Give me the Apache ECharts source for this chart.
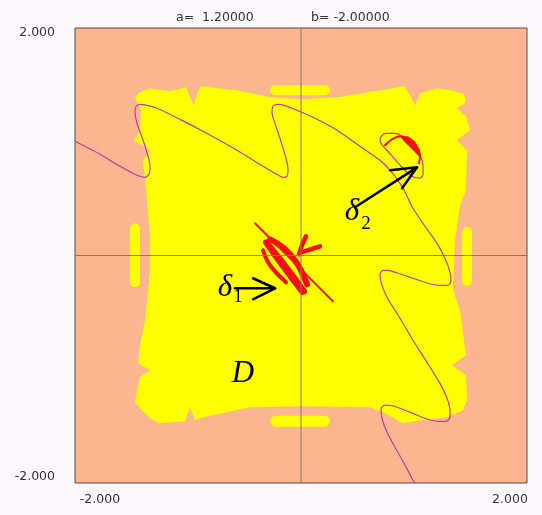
<!DOCTYPE html>
<html>
<head>
<meta charset="utf-8">
<script src="https://cdn.jsdelivr.net/npm/echarts@6/dist/echarts.min.js"></script>
<style>
  html, body { margin: 0; padding: 0; background: #fcf8fc; }
  #chart { width: 542px; height: 515px; }
</style>
</head>
<body>
<div id="chart"></div>
<script>
// Map parameters shown in the header
const paramLabels = ['a=  1.20000', 'b= -2.00000'];
// Axis range and end tick labels
const axisMin = -2;
const axisMax = 2;
const tickLabels = { '-2': '-2.000', '2': '2.000' };

// Basin D: outline of the bounded region, vertices as [x, y]
const basinD = [
  [-1.442, 1.426], [-1.336, 1.470], [-1.159, 1.444], [-1.018, 1.479], [-0.982, 1.391],
  [-0.947, 1.320], [-0.920, 1.426], [-0.885, 1.487], [-0.566, 1.452], [-0.274, 1.391],
  [0.000, 1.373], [0.319, 1.391], [0.761, 1.461], [0.912, 1.487], [0.965, 1.408],
  [1.009, 1.320], [1.053, 1.426], [1.204, 1.470], [1.336, 1.452], [1.442, 1.417],
  [1.460, 1.347], [1.381, 1.294], [1.460, 1.224], [1.496, 1.101], [1.381, 1.013],
  [1.469, 0.925], [1.460, 0.573], [1.407, 0.441], [1.363, 0.134], [1.345, -0.306],
  [1.407, -0.482], [1.460, -0.877], [1.336, -0.965], [1.460, -1.053], [1.469, -1.273],
  [1.434, -1.361], [1.292, -1.422], [1.053, -1.449], [0.903, -1.475], [0.761, -1.396],
  [0.611, -1.335], [0.000, -1.326], [-0.451, -1.335], [-0.867, -1.422], [-0.938, -1.449],
  [-0.982, -1.335], [-1.027, -1.458], [-1.248, -1.475], [-1.336, -1.431], [-1.425, -1.343],
  [-1.469, -1.291], [-1.451, -1.185], [-1.425, -1.071], [-1.336, -1.009], [-1.442, -0.948],
  [-1.425, -0.789], [-1.381, -0.570], [-1.363, -0.394], [-1.336, -0.130], [-1.336, 0.134],
  [-1.363, 0.485], [-1.398, 0.837], [-1.336, 0.925], [-1.478, 1.013], [-1.425, 1.101],
  [-1.416, 1.276], [-1.469, 1.382]
];

// Small islands of D: [centre x, centre y, half width, half height]
const islands = [
  [-0.009, 1.453, 0.265, 0.044],
  [-0.009, -1.457, 0.265, 0.048],
  [-1.469, 0.002, 0.044, 0.280],
  [1.469, -0.007, 0.044, 0.260]
];

// Invariant curve (magenta)
const manifold = [
  [-2.000, 1.004], [-1.779, 0.890], [-1.602, 0.784], [-1.451, 0.705], [-1.381, 0.687],
  [-1.345, 0.714], [-1.336, 0.784], [-1.363, 0.907], [-1.407, 1.039], [-1.451, 1.162],
  [-1.469, 1.259], [-1.460, 1.312], [-1.425, 1.329], [-1.363, 1.320], [-1.274, 1.294],
  [-1.071, 1.197], [-0.867, 1.092], [-0.566, 0.925], [-0.363, 0.802], [-0.230, 0.723],
  [-0.159, 0.687], [-0.124, 0.696], [-0.115, 0.749], [-0.133, 0.855], [-0.186, 1.030],
  [-0.230, 1.162], [-0.257, 1.259], [-0.248, 1.312], [-0.212, 1.329], [-0.150, 1.320],
  [-0.035, 1.277], [0.124, 1.206], [0.319, 1.101], [0.522, 0.960], [0.699, 0.837],
  [0.805, 0.731], [0.903, 0.591], [0.991, 0.415], [1.097, 0.257], [1.204, 0.107],
  [1.274, -0.025], [1.319, -0.148], [1.327, -0.227], [1.301, -0.262], [1.230, -0.262],
  [1.124, -0.244], [0.991, -0.200], [0.858, -0.156], [0.770, -0.130], [0.726, -0.130],
  [0.699, -0.165], [0.708, -0.236], [0.761, -0.367], [0.876, -0.552], [0.991, -0.745],
  [1.115, -0.939], [1.230, -1.124], [1.292, -1.255], [1.319, -1.361], [1.319, -1.422],
  [1.283, -1.458], [1.212, -1.458], [1.124, -1.440], [1.009, -1.396], [0.876, -1.343],
  [0.788, -1.317], [0.735, -1.317], [0.708, -1.352], [0.717, -1.431], [0.761, -1.554],
  [0.832, -1.686], [0.912, -1.827], [0.991, -1.976], [1.009, -2.000]
];

// Closed loop of the curve around δ2
const manifoldLoop = [
  [0.699, 1.030], [0.752, 1.074], [0.832, 1.074], [0.920, 1.030], [1.000, 0.960],
  [1.053, 0.881], [1.080, 0.793], [1.080, 0.714], [1.044, 0.679], [0.982, 0.696],
  [0.903, 0.767], [0.823, 0.855], [0.752, 0.934], [0.708, 0.986], [0.699, 1.030]
];

// Attractor δ1
const delta1Line = [[-0.407, 0.283], [0.283, -0.403]];
const delta1Bands = [
  [[-0.310, 0.116], [-0.221, 0.011], [-0.097, -0.148], [0.027, -0.315]],
  [[-0.274, 0.142], [-0.150, 0.063], [-0.035, -0.069], [0.053, -0.253]],
  [[-0.336, 0.046], [-0.274, -0.086], [-0.133, -0.236]],
  [[-0.300, 0.090], [-0.195, -0.060], [-0.060, -0.240], [0.010, -0.330]]
];
const delta1Spurs = [
  [[-0.018, 0.011], [0.009, 0.090], [0.044, 0.169]],
  [[0.000, 0.028], [0.088, 0.055], [0.168, 0.081]]
];

// Attractor δ2
const delta2Arc = [
  [0.743, 0.969], [0.805, 1.022], [0.876, 1.048], [0.956, 1.022],
  [1.018, 0.960], [1.053, 0.881], [1.044, 0.811]
];
const delta2Wedge = [
  [0.876, 1.048], [0.947, 1.048], [1.009, 1.004], [1.053, 0.925],
  [1.044, 0.872], [0.982, 0.934], [0.912, 1.004]
];

// Pointer arrows: shaft and head
const arrow2Shaft = [[0.478, 0.424], [1.027, 0.775]];
const arrow2Head = [[0.788, 0.749], [1.027, 0.775], [0.894, 0.591]];
const arrow1Shaft = [[-0.584, -0.288], [-0.230, -0.288]];
const arrow1Head = [[-0.425, -0.200], [-0.230, -0.288], [-0.425, -0.385]];

// Crosshair through the origin
const crossV = [[0, -2], [0, 2]];
const crossH = [[-2, 0], [2, 0]];

// Text annotations anchored in data coordinates
const noteText = ['δ', '2', 'δ', '1', 'D'];
const noteAt = [[0.451, 0.380], [0.575, 0.274], [-0.673, -0.288], [-0.558, -0.367], [-0.513, -1.044]];
const noteKind = ['sym', 'sub', 'sym', 'sub', 'sym'];

const COL = {
  peach: '#fbb68f',
  yellow: '#ffff00',
  red: '#f21010',
  curve: '#c03c9c',
  cross: '#8a7672',
  border: '#5a4646',
  text: '#333333'
};

function polygonSeries(polys, color, z) {
  return {
    type: 'custom', z, silent: true, clip: true,
    data: polys.map(p => p[0]),
    renderItem: (params, api) => ({
      type: 'polygon',
      shape: { points: polys[params.dataIndex].map(pt => api.coord(pt)) },
      style: { fill: color }
    })
  };
}

function lineSeries(points, color, width, z, smooth) {
  return {
    type: 'line', data: points, symbol: 'none', showSymbol: false,
    smooth: smooth || false, silent: true, z,
    lineStyle: { color, width, cap: 'round', join: 'round' }
  };
}

const series = [];
series.push(polygonSeries([basinD], COL.yellow, 2));
series.push({
  type: 'custom', z: 2, silent: true, clip: true,
  data: islands.map(d => [d[0], d[1]]),
  renderItem: (params, api) => {
    const d = islands[params.dataIndex];
    const c = api.coord([d[0], d[1]]);
    const s = api.size([d[2] * 2, d[3] * 2]);
    return {
      type: 'rect',
      shape: { x: c[0] - s[0] / 2, y: c[1] - s[1] / 2, width: s[0], height: s[1], r: Math.min(s[0], s[1]) / 2 },
      style: { fill: COL.yellow }
    };
  }
});
series.push(lineSeries(manifold, COL.curve, 1.2, 3, 0.25));
series.push(lineSeries(manifoldLoop, COL.curve, 1.2, 3, 0.4));
series.push(lineSeries(delta1Line, COL.red, 2, 4));
delta1Bands.forEach((b, i) => series.push(lineSeries(b, COL.red, i < 2 ? 6 : 4, 4, 0.4)));
delta1Spurs.forEach(b => series.push(lineSeries(b, COL.red, 4.5, 4, 0.3)));
series.push(lineSeries(delta2Arc, COL.red, 2, 4, 0.4));
series.push(polygonSeries([delta2Wedge], COL.red, 4));
series.push(lineSeries(crossV, COL.cross, 1, 5));
series.push(lineSeries(crossH, COL.cross, 1, 5));
series.push(lineSeries(arrow2Shaft, '#000', 2.5, 6));
series.push(lineSeries(arrow2Head, '#000', 2.5, 6));
series.push(lineSeries(arrow1Shaft, '#000', 2.5, 6));
series.push(lineSeries(arrow1Head, '#000', 2.5, 6));
series.push({
  type: 'custom', z: 7, silent: true, clip: false,
  data: noteAt,
  renderItem: (params, api) => {
    const i = params.dataIndex;
    const c = api.coord(noteAt[i]);
    const sub = noteKind[i] === 'sub';
    return {
      type: 'text', x: c[0], y: c[1],
      style: {
        text: noteText[i],
        font: (sub ? 'normal 19px' : 'italic 31px') + ' "Liberation Serif", serif',
        fill: '#000', align: 'center', verticalAlign: 'middle'
      }
    };
  }
});

const labelFont = { color: COL.text, fontFamily: 'DejaVu Sans', fontSize: 12.5 };

const chart = echarts.init(document.getElementById('chart'), null, { renderer: 'canvas' });
chart.setOption({
  animation: false,
  backgroundColor: '#fcf8fc',
  title: [
    { text: paramLabels[0], left: 171, top: 6, textStyle: Object.assign({ fontWeight: 'normal' }, labelFont) },
    { text: paramLabels[1], left: 306, top: 6, textStyle: Object.assign({ fontWeight: 'normal' }, labelFont) }
  ],
  grid: {
    left: 75, right: 15, top: 28, bottom: 32,
    show: true, backgroundColor: COL.peach, borderColor: COL.border, borderWidth: 1
  },
  xAxis: {
    type: 'value', min: axisMin, max: axisMax, interval: 4,
    axisLine: { show: false }, axisTick: { show: false }, splitLine: { show: false },
    axisLabel: Object.assign({
      margin: 10,
      formatter: v => v === axisMin ? '{l|' + tickLabels[v] + '}' : v === axisMax ? '{r|' + tickLabels[v] + '}' : '',
      rich: { l: { padding: [0, 0, 0, 50] }, r: { padding: [0, 34, 0, 0] } }
    }, labelFont)
  },
  yAxis: {
    type: 'value', min: axisMin, max: axisMax, interval: 4,
    axisLine: { show: false }, axisTick: { show: false }, splitLine: { show: false },
    axisLabel: Object.assign({
      margin: 20,
      formatter: v => v === axisMax ? '{t|' + tickLabels[v] + '}' : v === axisMin ? '{b|' + tickLabels[v] + '}' : '',
      rich: { t: { padding: [10, 0, 0, 0] }, b: { padding: [0, 0, 12, 0] } }
    }, labelFont)
  },
  series
});
</script>
</body>
</html>
